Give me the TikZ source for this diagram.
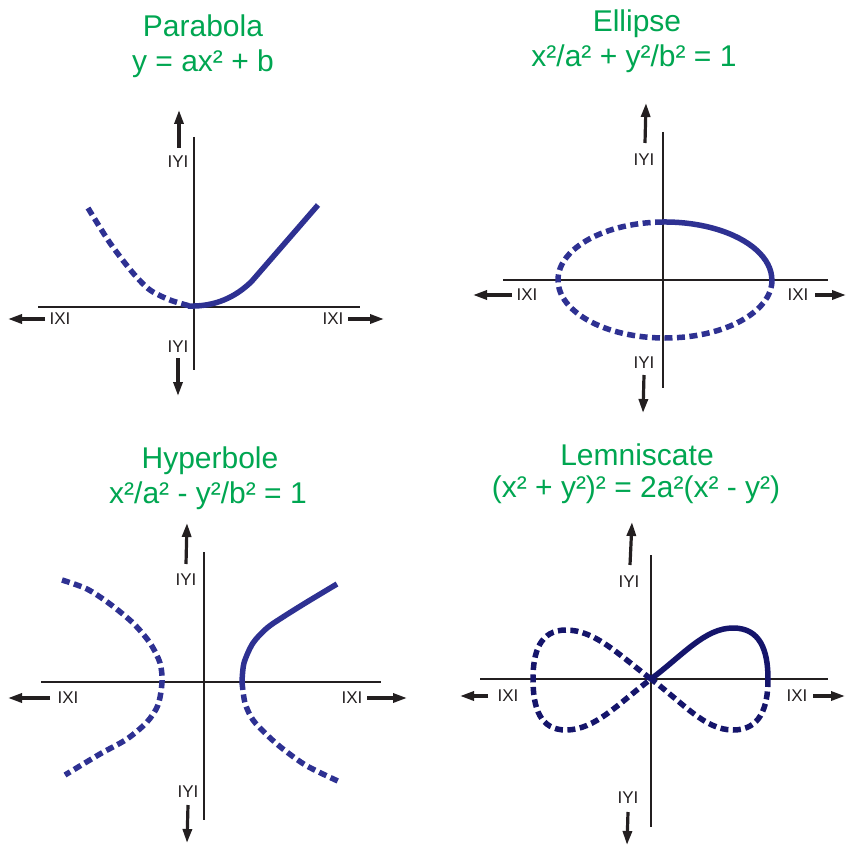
\documentclass[tikz,border=0pt]{standalone}
\usepackage{fontspec}
\setmainfont{Liberation Sans}
\usetikzlibrary{arrows.meta}
\definecolor{ttl}{HTML}{00A651}
\definecolor{crv}{HTML}{2E3192}
\definecolor{crvd}{HTML}{15156B}
\definecolor{axc}{HTML}{231F20}
\begin{document}
\begin{tikzpicture}[x=1pt,y=-1pt,
 axisline/.style={line width=2.8pt, axc},
 arr/.style={line width=3.2pt, axc, -{Triangle[length=14pt,width=9pt]}},
 lbl/.style={font=\fontsize{17}{17}\selectfont, text=axc, inner sep=0pt},
 ttlnode/.style={font=\fontsize{30}{35}\selectfont, text=ttl, inner sep=0pt, anchor=base},
 solidc/.style={line width=5.5pt, crv, line cap=butt},
 dashc/.style={line width=5.5pt, crv, dash pattern=on 8pt off 4.5pt},
 solidd/.style={line width=5.5pt, crvd, line cap=butt},
 dashd/.style={line width=5.5pt, crvd, dash pattern=on 8pt off 4.5pt},
]
\useasboundingbox (0,0) rectangle (846,845);

% ---------------- Titles
\node[ttlnode] (t1a) at (203,37) {Parabola};
\node[ttlnode] (t1b) at (203,72) {y = ax² + b};
\node[ttlnode] (t2a) at (637,32) {Ellipse};
\node[ttlnode] (t2b) at (634,67) {x²/a² + y²/b² = 1};
\node[ttlnode] (t3a) at (210,468) {Hyperbole};
\node[ttlnode] (t3b) at (208,503) {x²/a² - y²/b² = 1};
\node[ttlnode] (t4a) at (637,465) {Lemniscate};
\node[ttlnode] (t4b) at (636,497) {(x² + y²)² = 2a²(x² - y²)};

% ---------------- Parabola panel
\coordinate (pxl) at (38,307); \coordinate (pxr) at (360,307);
\coordinate (pyt) at (194,137); \coordinate (pyb) at (194,370);
\draw[axisline] (pxl) -- (pxr);
\draw[axisline] (pyt) -- (pyb);
\coordinate (pua) at (179,148); \coordinate (pub) at (179,110);
\coordinate (pla) at (45,319);  \coordinate (plb) at (8,319);
\coordinate (pra) at (348,319); \coordinate (prb) at (384,319);
\coordinate (pda) at (178,358); \coordinate (pdb) at (178,396);
\draw[arr] (pua) -- (pub);
\draw[arr] (pla) -- (plb);
\draw[arr] (pra) -- (prb);
\draw[arr] (pda) -- (pdb);
\node[lbl] (pyl1) at (178,162) {IYI};
\node[lbl] (pxl1) at (60,319) {IXI};
\node[lbl] (pxl2) at (333,319) {IXI};
\node[lbl] (pyl2) at (178,347) {IYI};
\draw[dashc] plot[smooth] coordinates {(88,208) (110,243) (133,273) (150,290) (170,300) (190,306)};
\draw[solidc] (188,306) .. controls (215,307) and (236,297) .. (252,281) -- (318,205);

% ---------------- Ellipse panel
\coordinate (exl) at (503,280); \coordinate (exr) at (828,280);
\coordinate (eyt) at (663,132); \coordinate (eyb) at (663,388);
\draw[axisline] (exl) -- (exr);
\draw[axisline] (eyt) -- (eyb);
\coordinate (eua) at (645,143); \coordinate (eub) at (646,103);
\coordinate (ela) at (512,295); \coordinate (elb) at (473,295);
\coordinate (era) at (815,295); \coordinate (erb) at (846,295);
\coordinate (eda) at (644,375); \coordinate (edb) at (643,413);
\draw[arr] (eua) -- (eub);
\draw[arr] (ela) -- (elb);
\draw[arr] (era) -- (erb);
\draw[arr] (eda) -- (edb);
\node[lbl] (eyl1) at (644,160) {IYI};
\node[lbl] (exl1) at (527,295) {IXI};
\node[lbl] (exl2) at (798,295) {IXI};
\node[lbl] (eyl2) at (644,363) {IYI};
\coordinate (ec) at (665,280);
\draw[dashc] (772,280) arc[start angle=0, end angle=270, x radius=107, y radius=58];
\draw[solidc] (663,222) arc[start angle=-91, end angle=0, x radius=107, y radius=58];

% ---------------- Hyperbole panel
\coordinate (hxl) at (41,682); \coordinate (hxr) at (381,682);
\coordinate (hyt) at (204,552); \coordinate (hyb) at (204,820);
\draw[axisline] (hxl) -- (hxr);
\draw[axisline] (hyt) -- (hyb);
\coordinate (hua) at (186,564); \coordinate (hub) at (187,523);
\coordinate (hla) at (50,698);  \coordinate (hlb) at (8,698);
\coordinate (hra) at (367,698); \coordinate (hrb) at (407,698);
\coordinate (hda) at (188,805); \coordinate (hdb) at (187,843);
\draw[arr] (hua) -- (hub);
\draw[arr] (hla) -- (hlb);
\draw[arr] (hra) -- (hrb);
\draw[arr] (hda) -- (hdb);
\node[lbl] (hyl1) at (186,580) {IYI};
\node[lbl] (hxl1) at (68,698) {IXI};
\node[lbl] (hxl2) at (352,698) {IXI};
\node[lbl] (hyl2) at (188,792) {IYI};
\draw[solidc] plot[smooth] coordinates {(242,682) (244,663) (253,643) (267,628) (283,617) (307,602) (337,584)};
\draw[dashc] plot[smooth] coordinates {(242,682) (245,703) (253,720) (267,735) (283,749) (307,766) (340,782)};
\draw[dashc] plot[smooth] coordinates {(62,580) (87,589) (110,604) (133,623) (150,643) (160,663) (162,682) (158,705) (147,722) (127,739) (100,754) (65,775)};

% ---------------- Lemniscate panel
\coordinate (lxl) at (480,679); \coordinate (lxr) at (828,679);
\coordinate (lyt) at (651,555); \coordinate (lyb) at (651,827);
\draw[axisline] (lxl) -- (lxr);
\draw[axisline] (lyt) -- (lyb);
\coordinate (lua) at (630,565); \coordinate (lub) at (632,522);
\coordinate (lla) at (488,696); \coordinate (llb) at (460,696);
\coordinate (lra) at (813,696); \coordinate (lrb) at (845,696);
\coordinate (lda) at (628,812); \coordinate (ldb) at (627,845);
\draw[arr] (lua) -- (lub);
\draw[arr] (lla) -- (llb);
\draw[arr] (lra) -- (lrb);
\draw[arr] (lda) -- (ldb);
\node[lbl] (lyl1) at (629,582) {IYI};
\node[lbl] (lxl1) at (508,696) {IXI};
\node[lbl] (lxl2) at (797,696) {IXI};
\node[lbl] (lyl2) at (628,798) {IYI};
\coordinate (lc) at (651,679);
\draw[dashd] (768,679) .. controls (768,708) and (760,730) .. (733,730) .. controls (705,730) and (683,703) .. (lc);
\draw[dashd] (lc) .. controls (619,655) and (595,630) .. (566,630) .. controls (540,630) and (533,652) .. (533,679) .. controls (533,708) and (540,730) .. (566,730) .. controls (595,730) and (619,703) .. (lc);
\draw[solidd] (lc) .. controls (683,655) and (705,628) .. (733,628) .. controls (760,628) and (768,650) .. (768,679);
\end{tikzpicture}
\end{document}
